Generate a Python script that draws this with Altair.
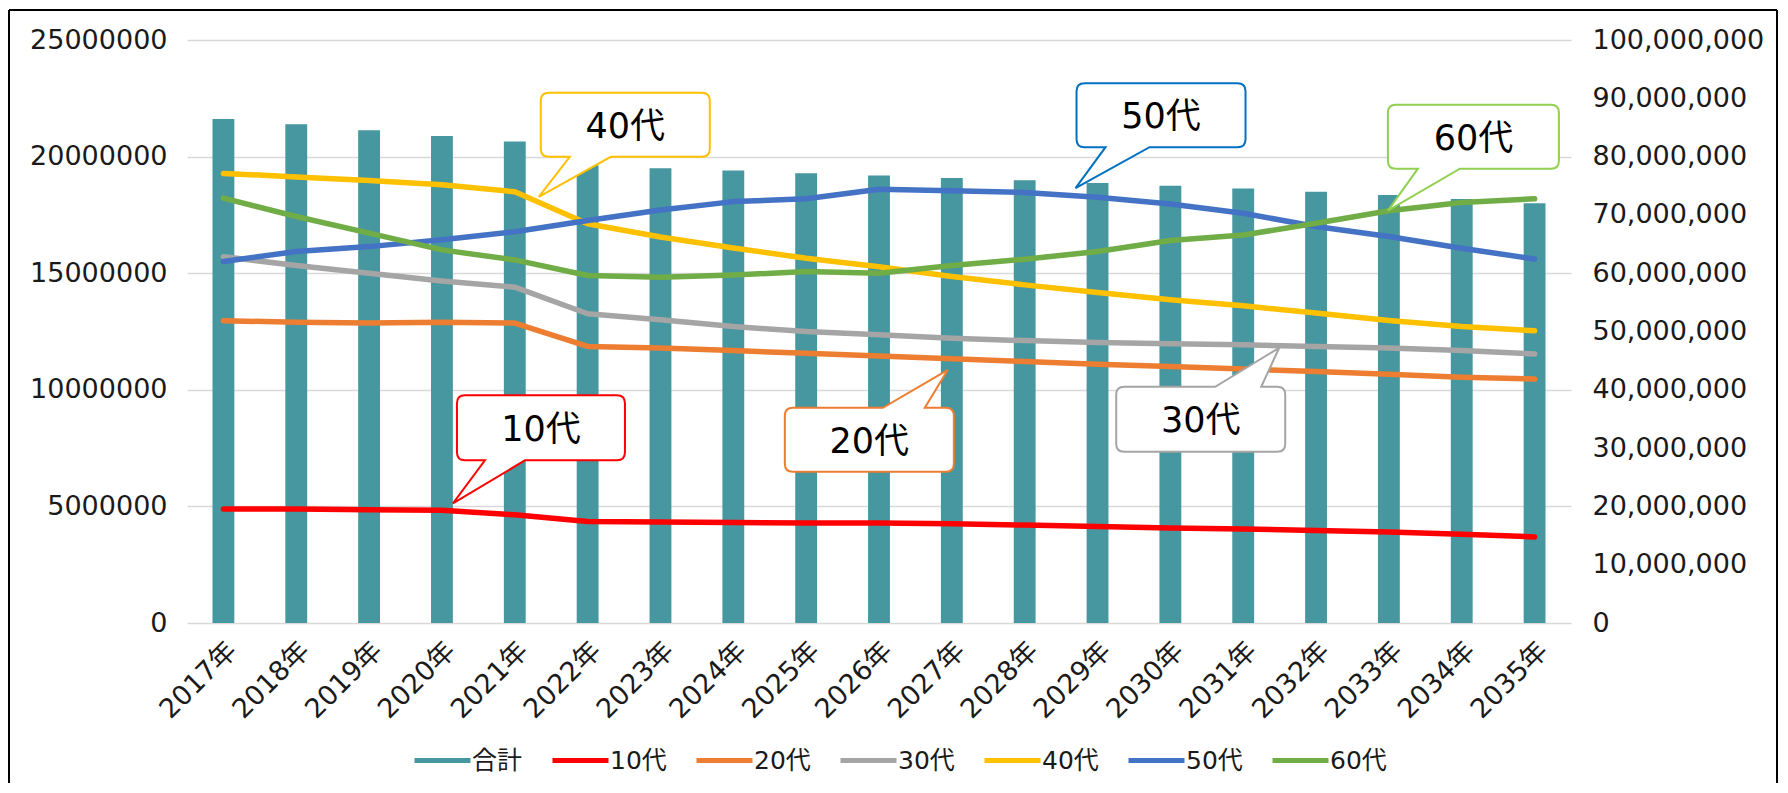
import altair as alt
import pandas as pd

# ---------------- data ----------------
years = ["2017年", "2018年", "2019年", "2020年", "2021年", "2022年", "2023年",
         "2024年", "2025年", "2026年", "2027年", "2028年", "2029年", "2030年",
         "2031年", "2032年", "2033年", "2034年", "2035年"]

total = [86460000, 85550000, 84520000, 83540000, 82570000, 78500000, 78000000,
         77600000, 77150000, 76740000, 76340000, 75950000, 75480000, 75020000,
         74510000, 73990000, 73430000, 72740000, 72000000]

s10 = [4890000, 4890000, 4860000, 4830000, 4640000, 4350000, 4330000, 4310000,
       4290000, 4290000, 4260000, 4200000, 4140000, 4070000, 4030000, 3970000,
       3900000, 3810000, 3690000]
s20 = [12960000, 12900000, 12860000, 12900000, 12860000, 11860000, 11790000,
       11680000, 11570000, 11450000, 11330000, 11210000, 11100000, 11000000,
       10890000, 10780000, 10670000, 10540000, 10460000]
s30 = [15710000, 15330000, 15000000, 14670000, 14400000, 13260000, 13000000,
       12710000, 12500000, 12360000, 12210000, 12110000, 12030000, 11970000,
       11930000, 11860000, 11790000, 11680000, 11540000]
s40 = [19280000, 19130000, 18980000, 18790000, 18490000, 17120000, 16550000,
       16080000, 15640000, 15280000, 14860000, 14500000, 14170000, 13860000,
       13600000, 13290000, 12970000, 12710000, 12530000]
s50 = [15500000, 15930000, 16140000, 16430000, 16780000, 17260000, 17710000,
       18070000, 18190000, 18600000, 18540000, 18460000, 18260000, 17970000,
       17570000, 17000000, 16570000, 16070000, 15610000]
s60 = [18220000, 17430000, 16720000, 16000000, 15570000, 14900000, 14830000,
       14920000, 15070000, 15000000, 15330000, 15600000, 15930000, 16400000,
       16640000, 17140000, 17680000, 18030000, 18190000]

line_names = ["10代", "20代", "30代", "40代", "50代", "60代"]
line_values = [s10, s20, s30, s40, s50, s60]
all_names = ["合計"] + line_names

left_ticks = [0, 5000000, 10000000, 15000000, 20000000, 25000000]
right_ticks = [0, 10000000, 20000000, 30000000, 40000000, 50000000,
               60000000, 70000000, 80000000, 90000000, 100000000]

# ---------------- styles ----------------
FONT = "DejaVu Sans, Noto Sans CJK JP"
TEXT = "#1a1a1a"
BAR_COLOR = "#46979F"
colors = [BAR_COLOR, "#FF0000", "#ED7D31", "#A5A5A5", "#FFC000", "#4472C4", "#70AD47"]
AXIS_FS = 27

# callouts: (series, anchor year index, border colour, L, T, R, B, t1, t2, tipx, tipy, side)
callouts = [
    ("40代", 4, "#FFC000", 26, -99, 195, -35, 55, 96, 24, 5, "bottom"),
    ("50代", 12, "#0070C0", -21, -114, 148, -50, 8, 52, -22, -9, "bottom"),
    ("60代", 16, "#92D050", -1, -106, 170, -42, 29, 71, -1, 0, "bottom"),
    ("10代", 3, "#FF0000", 15, -115, 183, -50, 43, 83, 11, -7, "bottom"),
    ("20代", 10, "#ED7D31", -167, 49, 2, 113, -69, -27, -4, 11, "top"),
    ("30代", 14, "#A5A5A5", -127, 42, 42, 107, -28, 18, 36, 3, "top"),
]


def bubble_path(L, T, R, B, t1, t2, px, py, side, r=8):
    if side == "bottom":
        return (f"M{L + r},{T} H{R - r} Q{R},{T} {R},{T + r} V{B - r} Q{R},{B} {R - r},{B} "
                f"H{t2} L{px},{py} L{t1},{B} H{L + r} Q{L},{B} {L},{B - r} V{T + r} "
                f"Q{L},{T} {L + r},{T} Z")
    return (f"M{L + r},{T} H{t1} L{px},{py} L{t2},{T} H{R - r} Q{R},{T} {R},{T + r} "
            f"V{B - r} Q{R},{B} {R - r},{B} H{L + r} Q{L},{B} {L},{B - r} V{T + r} "
            f"Q{L},{T} {L + r},{T} Z")


# ---------------- tables ----------------
bar_df = pd.DataFrame({"year": years, "total": total})
rows = []
for name, vals in zip(line_names, line_values):
    for y, v in zip(years, vals):
        rows.append({"year": y, "series": name, "value": v})
line_df = pd.DataFrame(rows)

xscale = alt.Scale(paddingInner=0.7, paddingOuter=0.35)
left_scale = alt.Scale(domain=[0, 25000000], nice=False)
color_scale = alt.Scale(domain=all_names, range=colors)

bars = alt.Chart(bar_df).mark_bar(color=BAR_COLOR, opacity=1).encode(
    x=alt.X("year:N", sort=years, scale=xscale, title=None,
            axis=alt.Axis(labelAngle=-45, domain=False, ticks=False, labelFont=FONT,
                          labelFontSize=AXIS_FS, labelColor=TEXT, labelPadding=14,
                          title=None)),
    y=alt.Y("total:Q", scale=alt.Scale(domain=[0, 100000000], nice=False), title=None,
            axis=alt.Axis(orient="right", values=right_ticks, format=",d", grid=False,
                          domain=False, ticks=False, labelFont=FONT,
                          labelFontSize=AXIS_FS, labelColor=TEXT, labelPadding=21,
                          title=None)),
)

leg = alt.Legend(orient="none", legendX=225, legendY=690, direction="horizontal",
                 title=None, labelFont=FONT, labelFontSize=25, labelColor=TEXT,
                 symbolType="M-1,0L1,0", symbolSize=3136, symbolStrokeWidth=5,
                 columnPadding=19, labelOffset={"expr": "-1"}, padding=0,
                 gridAlign="none")

lines = alt.Chart(line_df).mark_line(strokeWidth=5.5, strokeCap="round",
                                     strokeJoin="round", opacity=1).encode(
    x=alt.X("year:N", sort=years, scale=xscale, title=None),
    y=alt.Y("value:Q", scale=left_scale, title=None,
            axis=alt.Axis(orient="left", values=left_ticks, format="d", grid=True,
                          gridColor="#D9D9D9", gridWidth=1.3, domain=False, ticks=False,
                          labelFont=FONT, labelFontSize=AXIS_FS, labelColor=TEXT,
                          labelPadding=20, title=None)),
    color=alt.Color("series:N", scale=color_scale, legend=leg),
)

inner_layers = [lines]
series_lookup = dict(zip(line_names, line_values))
for (name, idx, col, L, T, R, B, t1, t2, px, py, side) in callouts:
    anchor = pd.DataFrame({"year": [years[idx]], "value": [series_lookup[name][idx]],
                           "label": [name]})
    path = bubble_path(L, T, R, B, t1, t2, px, py, side)
    shape = alt.Chart(anchor).mark_point(shape=path, size=4, filled=True, fill="white",
                                         stroke=col, strokeWidth=2, opacity=1).encode(
        x=alt.X("year:N", sort=years, scale=xscale, title=None),
        y=alt.Y("value:Q", scale=left_scale, title=None))
    txt = alt.Chart(anchor).mark_text(font=FONT, fontSize=35, color="#000000",
                                      align="center", baseline="middle",
                                      dx=(L + R) / 2, dy=(T + B) / 2 + 2).encode(
        x=alt.X("year:N", sort=years, scale=xscale, title=None),
        y=alt.Y("value:Q", scale=left_scale, title=None),
        text="label:N")
    inner_layers += [shape, txt]

inner = alt.layer(*inner_layers)

one = pd.DataFrame({"k": [0]})
frame = [
    alt.Chart(one).mark_rule(color="black", strokeWidth=2).encode(
        x=alt.value(-178), y=alt.value(-30), y2=alt.value(760)),
    alt.Chart(one).mark_rule(color="black", strokeWidth=2).encode(
        x=alt.value(-178), x2=alt.value(1590), y=alt.value(-30)),
    alt.Chart(one).mark_rule(color="black", strokeWidth=2).encode(
        x=alt.value(1590), y=alt.value(-30), y2=alt.value(760)),
]

chart = alt.layer(bars, inner, *frame).resolve_scale(y="independent").properties(
    width=1384, height=583,
    autosize=alt.AutoSizeParams(type="none"),
    padding={"left": 179, "top": 32, "right": 207, "bottom": 160},
    background="white",
).configure_view(strokeWidth=0)

chart.save("out.html", embed_options={"renderer": "svg", "actions": False})
